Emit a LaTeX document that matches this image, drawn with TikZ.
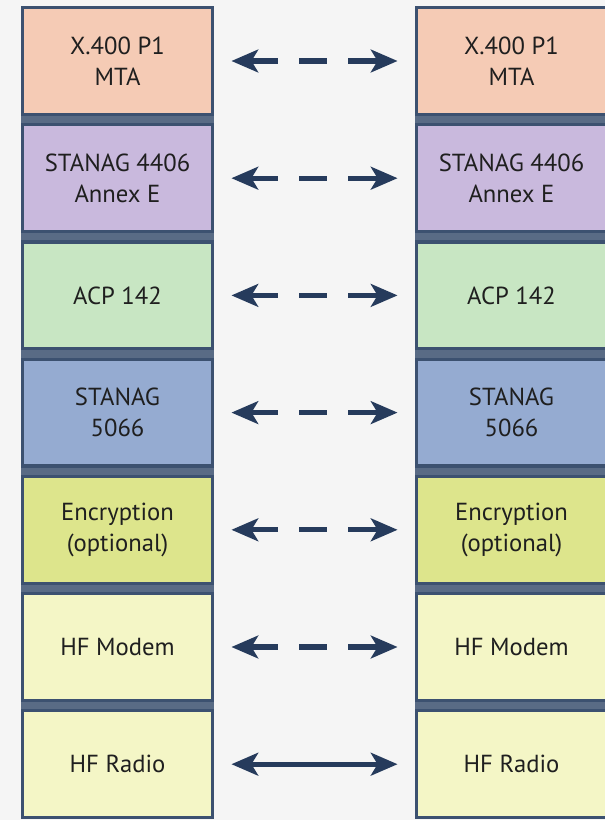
\documentclass[tikz,border=0pt]{standalone}
\usepackage{fontspec}
\setmainfont{PT Sans}
\usetikzlibrary{arrows.meta}

\definecolor{rand}{HTML}{3C5170}
\definecolor{pfeil}{HTML}{263B5C}
\definecolor{grund}{HTML}{F5F5F5}
\definecolor{mta}{HTML}{F5CBB5}
\definecolor{annex}{HTML}{C9B9DD}
\definecolor{acp}{HTML}{C8E6C3}
\definecolor{stanag}{HTML}{95ABD1}
\definecolor{krypto}{HTML}{DDE58C}
\definecolor{hf}{HTML}{F4F6C6}

\begin{document}
\begin{tikzpicture}[x=0.75pt,y=-0.75pt,
    schicht/.style={draw=rand,line width=2.4pt,minimum width=143pt,minimum height=80pt,
      align=center,text=black!88,font=\fontsize{18.5}{23.5}\selectfont},
    verb/.style={draw=pfeil,line width=3.8pt,
      {Stealth[length=20pt,width=17pt,inset=5pt]}-{Stealth[length=20pt,width=17pt,inset=5pt]},
      shorten <=12.75pt,shorten >=12.75pt},
    logisch/.style={verb,dash pattern=on 100pt off 16pt on 21pt off 16pt on 100pt off 1pt,
      dash phase=79pt}]
  \useasboundingbox (0,0) rectangle (605,820);
  \fill[grund] (0,0) rectangle (605,820); % Hintergrund
  \fill[rand!85] (21,7) rectangle (214,818);  % Stapel links
  \fill[rand!85] (415,7) rectangle (608,818); % Stapel rechts

  \foreach \i/\farbe/\txt in {1/mta/{X.400 P1\\MTA},2/annex/{STANAG 4406\\Annex E},
      3/acp/{ACP 142},4/stanag/{STANAG\\5066},5/krypto/{Encryption\\(optional)},
      6/hf/{HF Modem},7/hf/{HF Radio}}
  {
    \node[schicht,fill=\farbe] (L\i) at (117.5,{61+(\i-1)*117.2}) {\txt}; % links
    \node[schicht,fill=\farbe] (R\i) at (511.5,{61+(\i-1)*117.2}) {\txt}; % rechts
  }

  \foreach \i in {1,...,6}
  \draw[logisch] (L\i) -- (R\i); % logische Verbindung
  \draw[verb] (L7) -- (R7); % physikalische Verbindung
\end{tikzpicture}
\end{document}
